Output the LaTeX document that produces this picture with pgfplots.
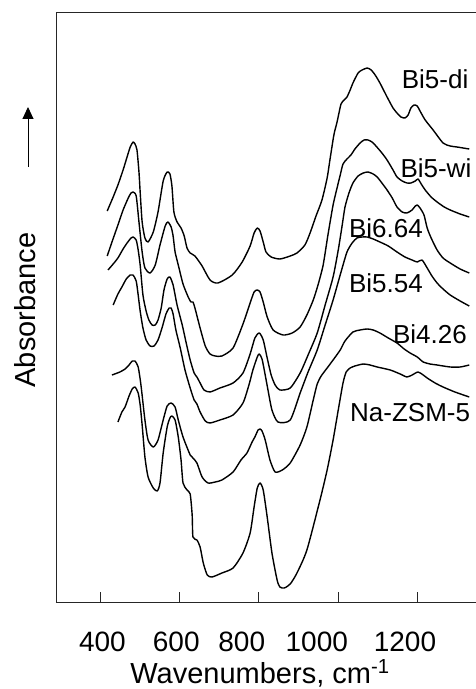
\documentclass[border=0pt]{standalone}
\usepackage{fontspec}
\setmainfont{Liberation Sans}
\usepackage{pgfplots}
\pgfplotsset{compat=1.18}
\usetikzlibrary{arrows.meta}

\begin{document}
\begin{tikzpicture}
\begin{axis}[
  name=ax,
  scale only axis,
  width=420pt, height=590pt,
  xmin=289, xmax=1347, ymin=0, ymax=590,
  axis x line=box, axis y line=left,
  x axis line style={-}, y axis line style={-},
  axis line style={line width=0.9pt, black!85},
  xtick={400,600,800,1000,1200},
  xticklabels={,,,,},
  xtick pos=left,
  tick align=inside,
  major tick length=10pt,
  tick style={line width=0.9pt, black!85},
  ytick=\empty,
  extra x ticks={406,592,757,946,1168},
  extra x tick labels={400,600,800,1000,1200},
  extra x tick style={major tick length=0pt},
  xticklabel style={font=\fontsize{28}{32}\selectfont, inner sep=0pt, anchor=north, yshift=-30pt},
  clip=false,
  spec/.style={black, line width=1.4pt, no markers, smooth, tension=0.4, line join=round},
]
% Bi5-di
\addplot[spec] coordinates {(418,391)(433,405)(445,417)(458,432)(468,445)(476,455)(483,460)(488,458)(493,452)(498,430)(501,410)(506,380)(513,364)(521,360)(534,370)(546,390)(559,421)(569,430)(576,428)(581,416)(586,390)(594,380)(604,374)(612,366)(619,354)(627,349)(639,346)(657,336)(677,322)(697,319)(733,327)(758,340)(778,356)(788,369)(796,374)(803,371)(811,360)(818,350)(831,345)(853,343)(879,346)(896,349)(916,357)(929,369)(944,386)(959,402)(972,424)(979,442)(989,467)(997,480)(1007,498)(1015,502)(1022,505)(1030,512)(1037,519)(1050,529)(1060,532)(1073,534)(1083,532)(1093,527)(1105,519)(1123,505)(1138,494)(1148,489)(1158,485)(1168,484)(1176,487)(1183,494)(1191,497)(1199,496)(1206,491)(1219,482)(1239,472)(1264,459)(1282,456)(1299,455)(1330,453)};
% Bi5-wi
\addplot[spec] coordinates {(418,346)(430,360)(445,377)(458,392)(471,404)(478,409)(483,410)(491,406)(498,380)(506,350)(513,334)(526,329)(539,337)(551,357)(564,376)(571,380)(579,375)(584,366)(589,350)(597,337)(609,318)(622,305)(629,300)(634,300)(639,294)(652,274)(665,256)(677,248)(690,246)(707,246)(735,254)(760,278)(778,299)(788,310)(796,312)(803,310)(811,300)(821,285)(836,272)(861,267)(884,269)(904,275)(921,287)(937,302)(949,317)(962,337)(974,367)(987,397)(997,414)(1005,427)(1012,438)(1022,443)(1032,447)(1042,453)(1055,459)(1065,462)(1075,462)(1085,460)(1095,456)(1110,449)(1123,442)(1138,432)(1148,425)(1161,421)(1173,419)(1183,419)(1194,421)(1201,423)(1209,418)(1219,412)(1234,405)(1249,400)(1267,395)(1282,392)(1307,388)(1330,385)};
% Bi6.64
\addplot[spec] coordinates {(420,332)(433,338)(445,344)(458,353)(468,359)(478,364)(483,365)(491,362)(496,352)(501,337)(508,307)(516,291)(523,282)(531,277)(539,277)(546,282)(554,294)(561,312)(569,323)(576,325)(584,317)(594,297)(607,277)(617,259)(627,242)(637,229)(644,225)(652,219)(662,212)(677,210)(702,214)(735,219)(760,229)(778,248)(790,264)(801,269)(811,262)(821,244)(831,227)(841,217)(853,212)(879,214)(904,229)(924,247)(947,269)(967,297)(987,325)(1000,352)(1010,377)(1017,395)(1027,409)(1037,419)(1050,426)(1063,429)(1075,430)(1088,428)(1098,425)(1110,419)(1123,412)(1136,404)(1148,395)(1161,390)(1173,389)(1186,392)(1194,396)(1199,397)(1206,394)(1216,387)(1224,374)(1234,364)(1249,352)(1264,344)(1282,339)(1307,333)(1330,329)};
% Bi5.54
\addplot[spec] coordinates {(433,297)(445,308)(455,315)(466,323)(476,327)(483,327)(491,321)(496,307)(501,291)(508,274)(516,262)(526,256)(536,256)(546,262)(556,274)(566,288)(574,294)(579,294)(584,288)(591,272)(602,254)(614,232)(627,214)(637,202)(644,198)(652,190)(665,181)(677,179)(702,182)(735,187)(760,199)(775,217)(785,232)(796,245)(801,248)(808,243)(816,227)(823,212)(833,192)(848,180)(879,182)(904,209)(924,230)(947,252)(967,277)(987,302)(1007,330)(1022,350)(1035,359)(1047,364)(1060,365)(1073,365)(1088,363)(1105,360)(1126,356)(1148,350)(1168,345)(1186,342)(1199,340)(1211,342)(1224,334)(1236,326)(1249,319)(1264,313)(1282,307)(1307,301)(1330,296)};
% Bi4.26
\addplot[spec] coordinates {(430,227)(450,230)(463,233)(473,237)(481,241)(488,241)(496,235)(503,217)(513,182)(521,162)(534,155)(546,162)(559,182)(569,196)(579,199)(589,195)(597,182)(609,165)(627,147)(634,144)(644,139)(657,125)(672,119)(690,120)(707,122)(735,130)(755,142)(770,149)(783,160)(790,165)(798,172)(803,173)(808,171)(816,162)(828,142)(841,130)(859,132)(879,139)(904,157)(921,175)(937,202)(947,218)(957,226)(972,234)(987,242)(1005,252)(1017,261)(1037,270)(1055,272)(1073,273)(1088,272)(1105,269)(1126,264)(1148,259)(1166,253)(1181,249)(1199,245)(1214,240)(1231,238)(1249,237)(1282,235)(1307,235)(1330,237)};
% Na-ZSM-5
\addplot[spec] coordinates {(445,180)(455,190)(463,195)(473,206)(481,213)(488,215)(496,209)(501,197)(506,177)(513,145)(521,125)(534,114)(544,111)(551,119)(559,149)(569,175)(576,184)(581,186)(589,182)(597,165)(604,142)(609,119)(619,112)(627,108)(632,87)(634,65)(644,62)(652,55)(660,39)(670,27)(682,25)(707,29)(735,34)(760,49)(778,69)(788,95)(796,114)(803,119)(811,112)(821,85)(833,49)(846,22)(853,15)(864,14)(879,18)(896,29)(921,52)(954,102)(972,132)(987,162)(1000,192)(1012,219)(1020,230)(1030,234)(1042,236)(1063,238)(1080,237)(1098,235)(1131,232)(1156,228)(1173,225)(1186,227)(1201,230)(1214,227)(1224,224)(1244,219)(1264,215)(1294,210)(1330,205)};
\begin{scope}[every node/.style={font=\fontsize{26}{30}\selectfont, inner sep=0pt}]
\node at (axis cs:1244,523) {Bi5-di};
\node at (axis cs:1246,434) {Bi5-wi};
\node at (axis cs:1120,374) {Bi6.64};
\node at (axis cs:1120,319) {Bi5.54};
\node at (axis cs:1231,268) {Bi4.26};
\node at (axis cs:1181,189) {Na-ZSM-5};
\end{scope}
\end{axis}
\node[rotate=90, font=\fontsize{29}{33}\selectfont, inner sep=0pt] at ([xshift=-31pt,yshift=292pt]ax.south west) {Absorbance};
\draw[line width=0.9pt, -{Triangle[length=12pt,width=11pt]}] ([xshift=-28pt,yshift=435pt]ax.south west) -- ([xshift=-28pt,yshift=495pt]ax.south west);
\node[anchor=base, font=\fontsize{29}{33}\selectfont, inner sep=0pt] at ([xshift=204pt,yshift=-81pt]ax.south west) {Wavenumbers, cm\textsuperscript{-1}};
\pgfresetboundingbox
\path ([xshift=-56pt,yshift=-87pt]ax.south west) rectangle ([yshift=12pt]ax.north east);
\end{tikzpicture}
\end{document}
